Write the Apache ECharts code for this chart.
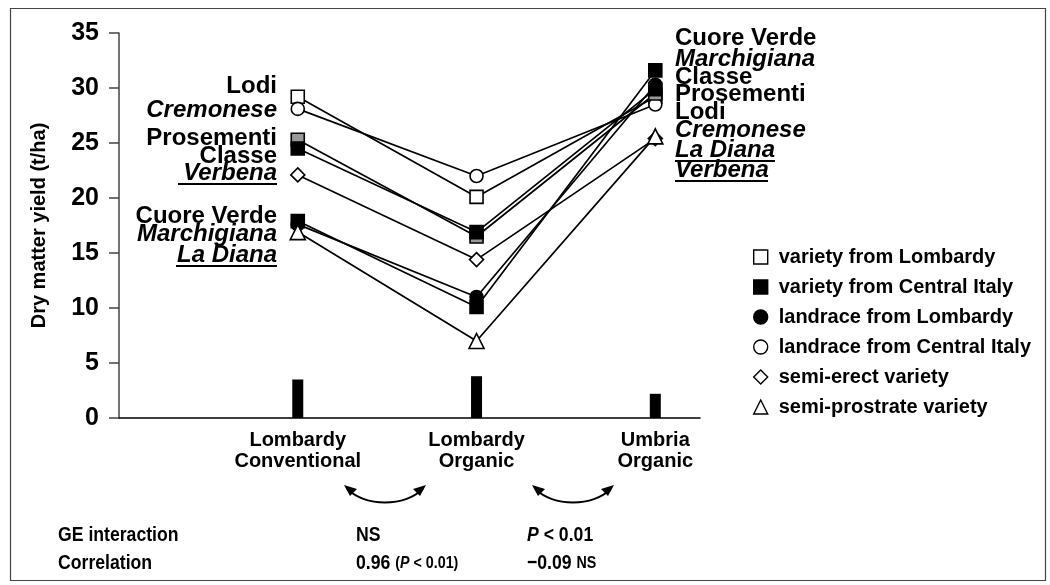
<!DOCTYPE html>
<html>
<head>
<meta charset="utf-8">
<script src="https://cdn.jsdelivr.net/npm/echarts@6/dist/echarts.min.js"></script>
<style>
html, body { margin: 0; padding: 0; background: #fff; }
#main { width: 1050px; height: 585px; }
</style>
</head>
<body>
<div id="main"></div>
<script>
// environments, placed at x = 1, 2, 3
const environments = ['Lombardy\nConventional', 'Lombardy\nOrganic', 'Umbria\nOrganic'];

// dry matter yield (t/ha) for each variety, in environment order
const lodi        = [29.2, 20.1, 29.2];
const cremonese   = [28.1, 22.0, 28.5];
const prosementi  = [25.3, 16.5, 29.5];
const classe      = [24.5, 16.9, 29.9];
const verbena     = [22.1, 14.4, 25.4];
const cuoreVerde  = [17.9, 10.1, 31.6];
const marchigiana = [17.6, 11.0, 30.3];
const laDiana     = [16.9, 7.0, 25.6];

// black bars at the foot of each environment
const lsd = [3.5, 3.8, 2.2];

const legendNames = [
    'variety from Lombardy',
    'variety from Central Italy',
    'landrace from Lombardy',
    'landrace from Central Italy',
    'semi-erect variety',
    'semi-prostrate variety'
];

const FONT = 'Liberation Sans, Arial, sans-serif';

// marker look per group
const styles = {
    openSquare:  {symbol: 'rect', fill: '#fff'},
    blackSquare: {symbol: 'rect', fill: '#000'},
    greySquare:  {symbol: 'rect', fill: '#999'},
    blackCircle: {symbol: 'circle', fill: '#000'},
    openCircle:  {symbol: 'circle', fill: '#fff'},
    diamond:     {symbol: 'diamond', fill: '#fff'},
    triangle:    {symbol: 'triangle', fill: '#fff'}
};

function toPoints(values) {
    return values.map((v, i) => [i + 1, v]);
}

function varietyLine(name, values, look, size) {
    const s = styles[look];
    return {
        name: name,
        type: 'line',
        data: toPoints(values),
        symbol: s.symbol,
        symbolSize: size || 13,
        showAllSymbol: true,
        lineStyle: {color: '#000', width: 1.7},
        itemStyle: {color: s.fill, borderColor: '#000', borderWidth: 1.6, opacity: 1},
        emphasis: {disabled: true},
        animation: false
    };
}

// drawn bottom first
let series = [
    varietyLine('Lodi', lodi, 'openSquare'),
    varietyLine('Cremonese', cremonese, 'openCircle'),
    varietyLine('Verbena', verbena, 'diamond', 14),
    varietyLine('Prosementi', prosementi, 'greySquare'),
    varietyLine('Classe', classe, 'blackSquare'),
    varietyLine('Marchigiana', marchigiana, 'blackCircle'),
    varietyLine('Cuore Verde', cuoreVerde, 'blackSquare'),
    varietyLine('La Diana', laDiana, 'triangle', 15),
    {
        type: 'bar',
        data: toPoints(lsd),
        barWidth: 11,
        itemStyle: {color: '#000'},
        silent: true,
        animation: false
    }
];

// empty series so the legend can show the marker key
const legendLooks = ['openSquare', 'blackSquare', 'blackCircle', 'openCircle', 'diamond', 'triangle'];
legendNames.forEach(n => series.push({name: n, type: 'line', data: []}));

// variety names next to the first and last environment
const leftLabels = [
    {t: 'Lodi', y: 86},
    {t: 'Cremonese', y: 110, it: true},
    {t: 'Prosementi', y: 138},
    {t: 'Classe', y: 156},
    {t: 'Verbena', y: 173, it: true, ul: true},
    {t: 'Cuore Verde', y: 216},
    {t: 'Marchigiana', y: 234, it: true},
    {t: 'La Diana', y: 255, it: true, ul: true}
];
const rightLabels = [
    {t: 'Cuore Verde', y: 38},
    {t: 'Marchigiana', y: 59, it: true},
    {t: 'Classe', y: 77},
    {t: 'Prosementi', y: 94},
    {t: 'Lodi', y: 112},
    {t: 'Cremonese', y: 130, it: true},
    {t: 'La Diana', y: 150, it: true, ul: true},
    {t: 'Verbena', y: 170, it: true, ul: true}
];

let graphics = [];

// outer frame
graphics.push({
    type: 'rect', left: 8, top: 6,
    shape: {width: 1035, height: 572},
    style: {fill: 'none', stroke: '#444', lineWidth: 1.2},
    silent: true
});

function nameText(lbl, x, align) {
    graphics.push({
        type: 'text', x: x, y: lbl.y,
        style: {
            text: lbl.t, align: align, verticalAlign: 'middle',
            font: (lbl.it ? 'italic ' : '') + 'bold 24px ' + FONT,
            fill: '#000'
        },
        silent: true
    });
}
leftLabels.forEach(l => nameText(l, 277, 'right'));
rightLabels.forEach(l => nameText(l, 675, 'left'));

// underlines (Verbena, La Diana)
[[178, 277, 184], [176, 277, 266], [675, 775, 161], [675, 768, 181]].forEach(u => {
    graphics.push({
        type: 'line', shape: {x1: u[0], y1: u[2], x2: u[1], y2: u[2]},
        style: {stroke: '#000', lineWidth: 2}, silent: true
    });
});

// curved double arrows between environments
[345, 533].forEach(x0 => {
    const x1 = x0 + 80;
    graphics.push({
        type: 'bezierCurve',
        shape: {x1: x0 + 2, y1: 489, cpx1: x0 + 22, cpy1: 507, cpx2: x1 - 22, cpy2: 507, x2: x1 - 2, y2: 489},
        style: {stroke: '#000', lineWidth: 1.8, fill: 'none'}, silent: true
    });
    graphics.push({
        type: 'polygon', shape: {points: [[x0 - 1, 485], [x0 + 12, 489], [x0 + 5, 496]]},
        style: {fill: '#000'}, silent: true
    });
    graphics.push({
        type: 'polygon', shape: {points: [[x1 + 1, 485], [x1 - 12, 489], [x1 - 5, 496]]},
        style: {fill: '#000'}, silent: true
    });
});

// statistics rows under the chart (condensed bold, like the original)
const rich = {
    i: {fontStyle: 'italic', fontWeight: 'bold', fontSize: 21, fontFamily: FONT},
    s: {fontWeight: 'bold', fontSize: 17, fontFamily: FONT},
    si: {fontStyle: 'italic', fontWeight: 'bold', fontSize: 17, fontFamily: FONT}
};
[
    ['GE interaction', 58, 535],
    ['NS', 356, 535],
    ['{i|P} < 0.01', 527, 535],
    ['Correlation', 58, 563],
    ['0.96 {s|(}{si|P}{s| < 0.01)}', 356, 563],
    ['\u22120.09 {s|NS}', 527, 563]
].forEach(r => {
    graphics.push({
        type: 'text', x: r[1], y: r[2], scaleX: 0.84,
        style: {
            text: r[0], verticalAlign: 'middle',
            font: 'bold 21px ' + FONT, fill: '#000', rich: rich
        },
        silent: true
    });
});

const chart = echarts.init(document.getElementById('main'));
chart.setOption({
    animation: false,
    backgroundColor: '#fff',
    grid: {left: 119, right: 350, top: 33, bottom: 167, containLabel: false},
    xAxis: {
        type: 'value', min: 0, max: 3.25, interval: 1,
        axisLine: {onZero: false, lineStyle: {color: '#000', width: 1.5}},
        axisTick: {show: false},
        splitLine: {show: false},
        axisLabel: {
            showMinLabel: false, showMaxLabel: false,
            formatter: v => (Number.isInteger(v) && v >= 1 && v <= 3) ? environments[v - 1] : '',
            color: '#000', fontWeight: 'bold', fontSize: 20, lineHeight: 21,
            fontFamily: FONT, margin: 12
        }
    },
    yAxis: {
        type: 'value', min: 0, max: 35, interval: 5,
        name: 'Dry matter yield (t/ha)',
        nameLocation: 'middle', nameGap: 70, nameRotate: 90,
        nameTextStyle: {color: '#000', fontWeight: 'bold', fontSize: 20, fontFamily: FONT},
        axisLine: {show: true, lineStyle: {color: '#444', width: 1.5}},
        axisTick: {show: true, inside: false, length: 10, lineStyle: {color: '#444', width: 1.5}},
        splitLine: {show: false},
        axisLabel: {color: '#000', fontWeight: 'bold', fontSize: 25, fontFamily: FONT, margin: 20}
    },
    legend: {
        orient: 'vertical', left: 748, top: 242,
        itemWidth: 14, itemHeight: 14, itemGap: 10,
        selectedMode: false,
        textStyle: {color: '#000', fontWeight: 'bold', fontSize: 20, lineHeight: 20, fontFamily: FONT, padding: [0, 0, 0, 6]},
        data: legendNames.map((n, k) => ({
            name: n,
            icon: styles[legendLooks[k]].symbol,
            itemStyle: {color: styles[legendLooks[k]].fill, borderColor: '#000', borderWidth: 1.4}
        }))
    },
    series: series,
    graphic: graphics
});
</script>
</body>
</html>
